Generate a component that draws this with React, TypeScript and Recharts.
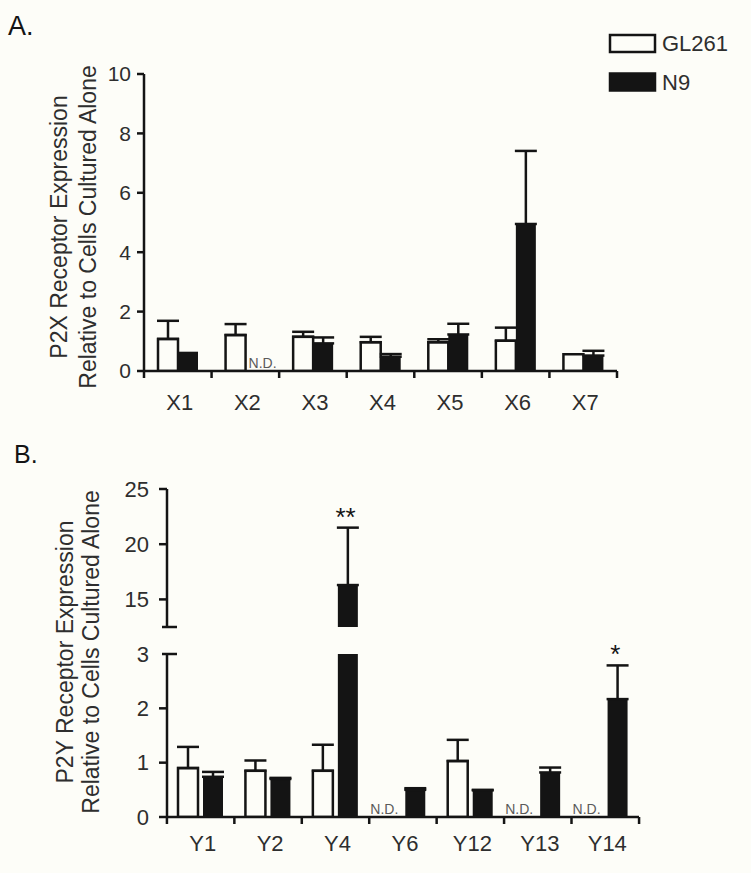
import React from "react";
import {
  ComposedChart,
  Bar,
  Line,
  XAxis,
  YAxis,
  ErrorBar,
  Rectangle,
} from "recharts";

// Panel A: P2X receptors
const xCategories = ["X1", "X2", "X3", "X4", "X5", "X6", "X7"];
const xGL261 = [1.08, 1.21, 1.15, 0.97, 0.97, 1.02, 0.56];
const xGL261Err = [0.61, 0.37, 0.17, 0.18, 0.1, 0.44, null];
const xN9 = [0.65, null, 0.93, 0.48, 1.23, 4.95, 0.52];
const xN9Err = [null, null, 0.2, 0.09, 0.36, 2.46, 0.16];
const xSig = ["", "", "", "", "", "", ""];
const xTicks = [0, 2, 4, 6, 8, 10];

// Panel B: P2Y receptors (broken y axis)
const yCategories = ["Y1", "Y2", "Y4", "Y6", "Y12", "Y13", "Y14"];
const yGL261 = [0.9, 0.85, 0.85, null, 1.03, null, null];
const yGL261Err = [0.39, 0.19, 0.48, null, 0.39, null, null];
const yN9 = [0.74, 0.7, 16.3, 0.5, 0.49, 0.82, 2.17];
const yN9Err = [0.09, 0.02, 5.2, 0.03, 0.01, 0.09, 0.62];
const ySig = ["", "", "**", "", "", "", "*"];
const yLowTicks = [0, 1, 2, 3];
const yHighTicks = [12.5, 15, 20, 25];

const seriesNames = ["GL261", "N9"];

const W = 751;
const H = 873;
const BG = "#fdfdf8";
const INK = "#141414";
const TEXT = "#2e2e2e";
const FONT = '"Liberation Sans", Arial, Helvetica, sans-serif';
const PLOT_W = 473;
const BAR = 20;

type Row = {
  name: string;
  gl: number | null;
  glErr: number[] | null;
  glNd: boolean;
  n9: number | null;
  n9Err: number[] | null;
  n9Nd: boolean;
  star: number | null;
  sig: string;
};

function pick(v: number | null, e: number | null, lo: number, hi: number) {
  if (v == null) return { val: lo === 0 ? 0 : null, err: null, nd: lo === 0 };
  if (v < lo) return { val: null, err: null, nd: false };
  return { val: v, err: v <= hi && e != null ? [0, e] : null, nd: false };
}

function buildRows(
  cats: string[],
  gl: (number | null)[],
  glErr: (number | null)[],
  n9: (number | null)[],
  n9Err: (number | null)[],
  sig: string[],
  lo: number,
  hi: number
): Row[] {
  return cats.map((name, i) => {
    const a = pick(gl[i], glErr[i], lo, hi);
    const b = pick(n9[i], n9Err[i], lo, hi);
    const v = n9[i];
    const top = v != null ? v + (n9Err[i] ?? 0) : null;
    const star = sig[i] && top != null && top >= lo && top <= hi ? top : null;
    return {
      name,
      gl: a.val,
      glErr: a.err,
      glNd: a.nd,
      n9: b.val,
      n9Err: b.err,
      n9Nd: b.nd,
      star,
      sig: sig[i],
    };
  });
}

const rowsA = buildRows(xCategories, xGL261, xGL261Err, xN9, xN9Err, xSig, 0, 10);
const rowsBHigh = buildRows(yCategories, yGL261, yGL261Err, yN9, yN9Err, ySig, 12.5, 25);
const rowsBLow = buildRows(yCategories, yGL261, yGL261Err, yN9, yN9Err, ySig, 0, 3);

const barShape = (ndKey: "glNd" | "n9Nd", anchor: "start" | "end") => (props: any) => {
  const { x, y, width, payload } = props;
  if (payload && payload[ndKey]) {
    return (
      <text
        x={anchor === "start" ? x + 3 : x + width - 2}
        y={y - 3}
        textAnchor={anchor}
        fontSize={14}
        fill="#5a5a5a"
        fontFamily={FONT}
      >
        N.D.
      </text>
    );
  }
  return <Rectangle {...props} />;
};

const makeXTick = (count: number, labelGap: number) => (props: any) => {
  const { x, y, payload, index } = props;
  const half = PLOT_W / count / 2;
  const ay = y - 8;
  return (
    <g>
      <line x1={x - half} x2={x - half} y1={ay} y2={ay + 7} stroke={INK} strokeWidth={2.5} />
      {index === count - 1 && (
        <line x1={x + half} x2={x + half} y1={ay} y2={ay + 7} stroke={INK} strokeWidth={2.5} />
      )}
      <text
        x={x + 2}
        y={ay + labelGap}
        dy="0.71em"
        textAnchor="middle"
        fontSize={22}
        fill={TEXT}
        fontFamily={FONT}
      >
        {payload.value}
      </text>
    </g>
  );
};

const makeYTick =
  (tickSize: number, tickMargin: number, breaks: number[], hidden: number[], fontSize: number) =>
  (props: any) => {
    const { x, y, payload } = props;
    const ax = x + tickSize + tickMargin;
    const v = payload.value;
    return (
      <g>
        {breaks.includes(v) ? (
          <line x1={ax - 5} x2={ax + 10} y1={y} y2={y} stroke={INK} strokeWidth={2.5} />
        ) : (
          <line x1={ax - tickSize} x2={ax} y1={y} y2={y} stroke={INK} strokeWidth={2.5} />
        )}
        {!hidden.includes(v) && (
          <text
            x={x}
            y={y}
            dy="0.355em"
            textAnchor="end"
            fontSize={fontSize}
            fill={TEXT}
            fontFamily={FONT}
          >
            {v}
          </text>
        )}
      </g>
    );
  };

const starDot = (props: any) => {
  const { cx, cy, payload, index } = props;
  if (cy == null || !payload || payload.star == null) return <g key={index} />;
  return (
    <text
      key={index}
      x={cx + BAR / 2}
      y={cy - 2}
      textAnchor="middle"
      fontSize={26}
      fill={INK}
      fontFamily={FONT}
    >
      {payload.sig}
    </text>
  );
};

type PanelProps = {
  rows: Row[];
  top: number;
  height: number;
  margin: { top: number; right: number; bottom: number; left: number };
  domain: [number, number];
  ticks: number[];
  breaks: number[];
  hidden: number[];
  showX: boolean;
  xHeight: number;
  labelGap: number;
  ndAnchor: "start" | "end";
  barGap: number;
  tickSize: number;
  tickMargin: number;
  tickFont: number;
};

function BarPanel(p: PanelProps) {
  return (
    <div style={{ position: "absolute", left: 0, top: p.top }}>
      <ComposedChart
        width={W}
        height={p.height}
        data={p.rows}
        margin={p.margin}
        barSize={BAR}
        barGap={p.barGap}
      >
        <XAxis
          dataKey="name"
          hide={!p.showX}
          height={p.xHeight}
          axisLine={{ stroke: INK, strokeWidth: 2.5 }}
          tickLine={false}
          tickSize={6}
          tickMargin={2}
          interval={0}
          tick={makeXTick(p.rows.length, p.labelGap)}
        />
        <YAxis
          type="number"
          domain={p.domain}
          ticks={p.ticks}
          allowDataOverflow
          interval={0}
          width={60}
          axisLine={{ stroke: INK, strokeWidth: 2.5 }}
          tickLine={false}
          tickSize={p.tickSize}
          tickMargin={p.tickMargin}
          tick={makeYTick(p.tickSize, p.tickMargin, p.breaks, p.hidden, p.tickFont)}
        />
        <YAxis yAxisId="star" type="number" hide domain={p.domain} />
        <Bar
          dataKey="gl"
          name={seriesNames[0]}
          fill={BG}
          stroke={INK}
          strokeWidth={2.5}
          shape={barShape("glNd", p.ndAnchor)}
          isAnimationActive={false}
        >
          <ErrorBar
            dataKey={(d: Row) => d.glErr}
            direction="y"
            width={11}
            stroke={INK}
            strokeWidth={2.5}
            isAnimationActive={false}
          />
        </Bar>
        <Bar
          dataKey="n9"
          name={seriesNames[1]}
          fill={INK}
          shape={barShape("n9Nd", "start")}
          isAnimationActive={false}
        >
          <ErrorBar
            dataKey={(d: Row) => d.n9Err}
            direction="y"
            width={11}
            stroke={INK}
            strokeWidth={2.5}
            isAnimationActive={false}
          />
        </Bar>
        <Line
          yAxisId="star"
          dataKey="star"
          stroke="none"
          dot={starDot}
          activeDot={false}
          isAnimationActive={false}
        />
      </ComposedChart>
    </div>
  );
}

function Overlay() {
  const legendFill = [BG, INK];
  return (
    <svg
      width={W}
      height={H}
      style={{ position: "absolute", left: 0, top: 0, pointerEvents: "none" }}
      fontFamily={FONT}
    >
      <text x={8} y={35} fontSize={27} fill={INK}>A.</text>
      <text x={14} y={463} fontSize={25} fill={INK}>B.</text>

      <g fontSize={23} fill={TEXT} textAnchor="middle">
        <text x={67} y={227} transform="rotate(-90 67 227)">P2X Receptor Expression</text>
        <text x={96} y={227} transform="rotate(-90 96 227)">Relative to Cells Cultured Alone</text>
        <text x={73} y={652} transform="rotate(-90 73 652)">P2Y Receptor Expression</text>
        <text x={99} y={652} transform="rotate(-90 99 652)">Relative to Cells Cultured Alone</text>
      </g>

      {seriesNames.map((name, i) => (
        <g key={name}>
          <rect
            x={610}
            y={35 + i * 38.5}
            width={45}
            height={17}
            fill={legendFill[i]}
            stroke={INK}
            strokeWidth={2.5}
          />
          <text x={662} y={43.5 + i * 38.5} dy="0.355em" fontSize={22} fill={TEXT}>
            {name}
          </text>
        </g>
      ))}
    </svg>
  );
}

export default function App() {
  return (
    <div
      style={{
        position: "absolute",
        left: 0,
        top: 0,
        width: W,
        height: H,
        background: BG,
        overflow: "hidden",
        fontFamily: FONT,
      }}
    >
      <BarPanel
        rows={rowsA}
        top={0}
        height={430}
        margin={{ top: 74, right: 134, bottom: 0, left: 84 }}
        domain={[0, 10]}
        ticks={xTicks}
        breaks={[]}
        hidden={[]}
        showX
        xHeight={59}
        labelGap={23}
        ndAnchor="start"
        barGap={0}
        tickSize={7}
        tickMargin={6}
        tickFont={21}
      />
      <BarPanel
        rows={rowsBHigh}
        top={430}
        height={210}
        margin={{ top: 59, right: 112, bottom: 13, left: 107 }}
        domain={[12.5, 25]}
        ticks={yHighTicks}
        breaks={[12.5]}
        hidden={[12.5]}
        showX={false}
        xHeight={0}
        labelGap={18}
        ndAnchor="end"
        barGap={5}
        tickSize={8}
        tickMargin={10}
        tickFont={22}
      />
      <BarPanel
        rows={rowsBLow}
        top={640}
        height={233}
        margin={{ top: 14, right: 112, bottom: 0, left: 107 }}
        domain={[0, 3]}
        ticks={yLowTicks}
        breaks={[3]}
        hidden={[]}
        showX
        xHeight={56}
        labelGap={18}
        ndAnchor="end"
        barGap={5}
        tickSize={8}
        tickMargin={10}
        tickFont={22}
      />
      <Overlay />
    </div>
  );
}
